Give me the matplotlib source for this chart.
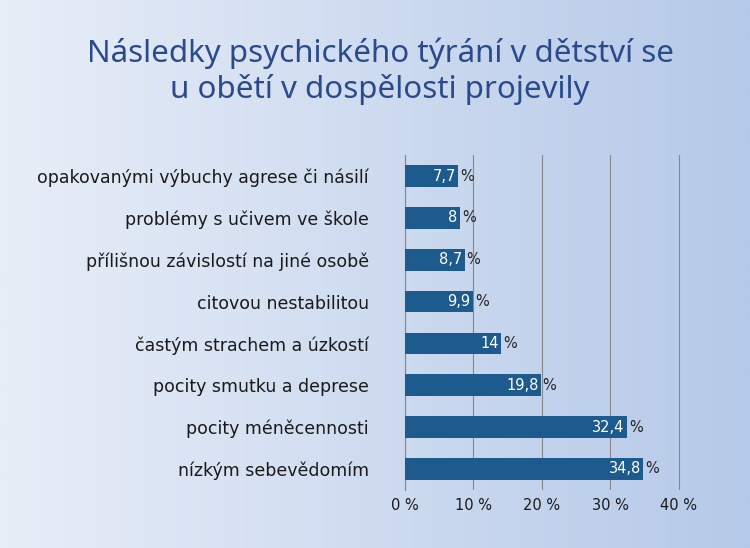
import matplotlib
matplotlib.use("Agg")
import matplotlib.pyplot as plt
import numpy as np
from matplotlib.colors import LinearSegmentedColormap

categories = ["opakovanými výbuchy agrese či násilí", "problémy s učivem ve škole",
              "přílišnou závislostí na jiné osobě", "citovou nestabilitou",
              "častým strachem a úzkostí", "pocity smutku a deprese",
              "pocity méněcennosti", "nízkým sebevědomím"]
values = [7.7, 8, 8.7, 9.9, 14, 19.8, 32.4, 34.8]
labels = ["7,7", "8", "8,7", "9,9", "14", "19,8", "32,4", "34,8"]
ticks = [0, 10, 20, 30, 40]

fig = plt.figure(figsize=(7.5, 5.48), dpi=100)
bg = fig.add_axes([0, 0, 1, 1])
grad = np.linspace(0, 1, 256).reshape(1, -1)
cm = LinearSegmentedColormap.from_list("g", ["#e8eef8", "#b5c9e8"])
bg.imshow(grad, aspect="auto", cmap=cm, extent=[0, 1, 0, 1])
bg.axis("off")

fig.text(0.507, 0.87, "Následky psychického týrání v dětství se\nu obětí v dospělosti projevily",
         ha="center", va="center", fontsize=22.5, fontweight="bold", color="#2b4a8b",
         family="Noto Sans", linespacing=1.2)

ax = fig.add_axes([0.54, 0.106, 0.3687, 0.611])
ax.patch.set_alpha(0)
y = np.arange(len(categories))
ax.barh(y, values, height=0.52, color="#1d5a8e", zorder=3)
for yi, v, l in zip(y, values, labels):
    ax.text(v - 0.3, yi, l, ha="right", va="center", color="white", fontsize=10.5, zorder=4)
    ax.text(v + 0.3, yi, "%", ha="left", va="center", color="#222222", fontsize=10.5, zorder=4)
ax.set_yticks(y)
ax.set_yticklabels(categories, fontsize=12.5, color="#1a1a1a")
ax.set_ylim(len(categories) - 0.5, -0.5)
ax.set_xlim(0, 40.4)
ax.set_xticks(ticks)
ax.set_xticklabels([f"{t} %" for t in ticks], fontsize=10.5, color="#1a1a1a")
ax.grid(axis="x", color="#888888", linewidth=0.8, zorder=0)
for s in ["top", "right", "bottom"]:
    ax.spines[s].set_visible(False)
ax.spines["left"].set_color("#888888")
ax.tick_params(axis="y", length=0, pad=26)
ax.tick_params(axis="x", length=0, pad=6)
fig.savefig("out.png", dpi=100)
